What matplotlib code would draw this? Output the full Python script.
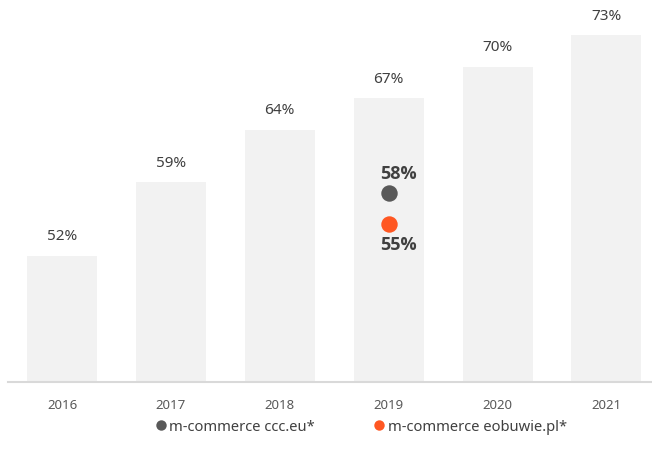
import matplotlib
matplotlib.use("Agg")
import matplotlib.pyplot as plt
from matplotlib.lines import Line2D

plt.rcParams['font.family'] = ['Noto Sans', 'DejaVu Sans']

years = ["2016", "2017", "2018", "2019", "2020", "2021"]
share = [52, 59, 64, 67, 70, 73]
point_year = "2019"
ccc_value = 58
eobuwie_value = 55

bar_color = "#f2f2f2"
ccc_color = "#595959"
eob_color = "#ff5722"
text_color = "#404040"

fig = plt.figure(figsize=(6.52, 4.61), dpi=100)
ax = fig.add_axes([8/652, 1 - 382/461, 644/652, 382/461])

x = list(range(len(years)))
ax.bar(x, share, width=0.643, color=bar_color, zorder=1)
for xi, v in zip(x, share):
    ax.text(xi, v + 1.1, f"{v}%", ha="center", va="bottom",
            fontsize=11, color=text_color)

xp = years.index(point_year)
ax.scatter([xp], [ccc_value], s=140, color=ccc_color, zorder=3, linewidths=0)
ax.scatter([xp], [eobuwie_value], s=140, color=eob_color, zorder=3, linewidths=0)
bold = dict(fontsize=13, fontweight="bold", color=text_color,
            family=["Open Sans", "DejaVu Sans"])
ax.text(xp + 0.09, ccc_value + 0.9, f"{ccc_value}%", ha="center", va="bottom", **bold)
ax.text(xp + 0.09, eobuwie_value - 1.1, f"{eobuwie_value}%", ha="center", va="top", **bold)

ax.set_xlim(-0.496, 5.418)
ax.set_ylim(40, 76.35)
ax.set_xticks(x)
ax.set_xticklabels(years, fontsize=9.5, color="#595959")
ax.tick_params(axis="x", length=0, pad=12)
ax.set_yticks([])
for s in ["top", "right", "left"]:
    ax.spines[s].set_visible(False)
ax.spines["bottom"].set_color("#d9d9d9")
ax.spines["bottom"].set_linewidth(1.5)

handles = [
    Line2D([], [], marker="o", linestyle="", color=ccc_color, markersize=7.5,
           markeredgewidth=0, label="m-commerce ccc.eu*"),
    Line2D([], [], marker="o", linestyle="", color=eob_color, markersize=7.5,
           markeredgewidth=0, label="m-commerce eobuwie.pl*"),
]
fig.legend(handles=handles, loc="center", bbox_to_anchor=(361/652, 1 - 427/461),
           ncol=2, frameon=False, fontsize=10.6, handletextpad=0.2,
           columnspacing=3.95, labelcolor=text_color, handlelength=0.8)

fig.savefig("out.png", dpi=100)
